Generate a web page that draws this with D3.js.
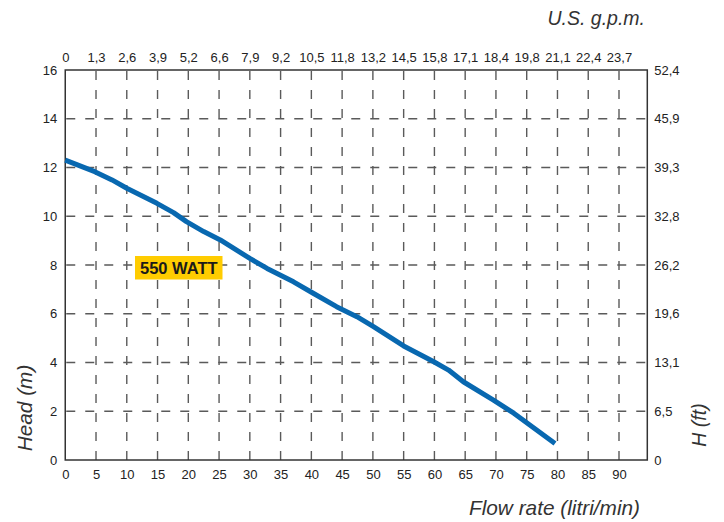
<!DOCTYPE html>
<html><head><meta charset="utf-8">
<script src="https://cdn.jsdelivr.net/npm/d3@7"></script>
<style>
body{margin:0;background:#fff;}
text{font-family:"Liberation Sans",Arial,Helvetica,sans-serif;}
</style>
</head><body>
<svg id="c" width="724" height="522"></svg>
<script>
// Data
const flowTicks = [0,5,10,15,20,25,30,35,40,45,50,55,60,65,70,75,80,85,90];
const gpmLabels = ["0","1,3","2,6","3,9","5,2","6,6","7,9","9,2","10,5","11,8","13,2","14,5","15,8","17,1","18,4","19,8","21,1","22,4","23,7"];
const headTicks = [0,2,4,6,8,10,12,14,16];
const feetLabels = ["0","6,5","13,1","19,6","26,2","32,8","39,3","45,9","52,4"];
const curveFlow = [0,4.8,7.6,10,14.9,17.6,19.7,22.5,25.2,30,32.8,37.1,40.3,44.1,47.4,50.1,55,59.9,62.3,64.7,69.6,72.9,79.6];
const curveHead = [12.3,11.83,11.49,11.15,10.53,10.15,9.78,9.37,9.03,8.27,7.86,7.31,6.84,6.29,5.88,5.47,4.68,4.03,3.69,3.21,2.46,1.92,0.68];
const seriesLabel = "550 WATT";

(function(){
const svg = d3.select("#c");
const L=65.25, R=647.3, T=70, B=460;
const x = d3.scaleLinear().domain([0,94.6]).range([L,R]);
const y = d3.scaleLinear().domain([0,16]).range([B,T]);

// grid
const g = svg.append("g");
g.selectAll("line.v").data(flowTicks.filter(d=>d>0)).join("line")
  .attr("x1",d=>x(d)).attr("x2",d=>x(d)).attr("y1",T+1).attr("y2",B)
  .attr("stroke","#5a5a5a").attr("stroke-width",1.4).attr("stroke-dasharray","9,10");
g.selectAll("line.h").data(headTicks.filter(d=>d>0&&d<16)).join("line")
  .attr("x1",L+1).attr("x2",R).attr("y1",d=>y(d)).attr("y2",d=>y(d))
  .attr("stroke","#5a5a5a").attr("stroke-width",1.4).attr("stroke-dasharray","9,10");

// frame
svg.append("rect").attr("x",L).attr("y",T).attr("width",R-L).attr("height",B-T)
  .attr("fill","none").attr("stroke","#333").attr("stroke-width",1.5);

// axes (labels only)
const fs = 13;
const axB = svg.append("g").attr("transform",`translate(0,${B})`)
  .call(d3.axisBottom(x).tickValues(flowTicks).tickSize(0).tickPadding(10).tickFormat(d=>String(d)));
const axT = svg.append("g").attr("transform",`translate(0,${T})`)
  .call(d3.axisTop(x).tickValues(flowTicks).tickSize(0).tickPadding(8).tickFormat((d,i)=>gpmLabels[i]));
const axL = svg.append("g").attr("transform",`translate(${L},0)`)
  .call(d3.axisLeft(y).tickValues(headTicks).tickSize(0).tickPadding(8).tickFormat(d=>String(d)));
const axR = svg.append("g").attr("transform",`translate(${R},0)`)
  .call(d3.axisRight(y).tickValues(headTicks).tickSize(0).tickPadding(7).tickFormat((d,i)=>feetLabels[i]));
[axB,axT,axL,axR].forEach(a=>{
  a.select(".domain").remove();
  a.selectAll("text").attr("font-size",fs).attr("fill","#222")
   .attr("font-family","'Liberation Sans',Arial,sans-serif");
});

// curve
const pts = curveFlow.map((f,i)=>[f,curveHead[i]]);
svg.append("path").datum(pts)
  .attr("d",d3.line().x(d=>x(d[0])).y(d=>y(d[1])))
  .attr("fill","none").attr("stroke","#0868b0").attr("stroke-width",5)
  .attr("stroke-linejoin","round");

// label box
svg.append("rect").attr("x",135).attr("y",256).attr("width",87.5).attr("height",23.5).attr("fill","#ffcc00");
svg.append("text").attr("x",178.8).attr("y",273.8).attr("text-anchor","middle")
  .attr("font-size",16.5).attr("font-weight","bold").attr("fill","#1a1a1a").text(seriesLabel);

// titles
svg.append("text").attr("x",640).attr("y",515).attr("text-anchor","end")
  .attr("font-size",20.8).attr("font-style","italic").attr("fill","#333").text("Flow rate (litri/min)");
svg.append("text").attr("x",645).attr("y",25).attr("text-anchor","end")
  .attr("font-size",19.5).attr("font-style","italic").attr("fill","#333").text("U.S. g.p.m.");
svg.append("text").attr("transform","translate(32,408) rotate(-90)").attr("text-anchor","middle")
  .attr("font-size",20.8).attr("font-style","italic").attr("fill","#333").text("Head (m)");
svg.append("text").attr("transform","translate(706,425) rotate(-90)").attr("text-anchor","middle")
  .attr("font-size",19.5).attr("font-style","italic").attr("fill","#333").text("H (ft)");
})();
</script>
</body></html>
